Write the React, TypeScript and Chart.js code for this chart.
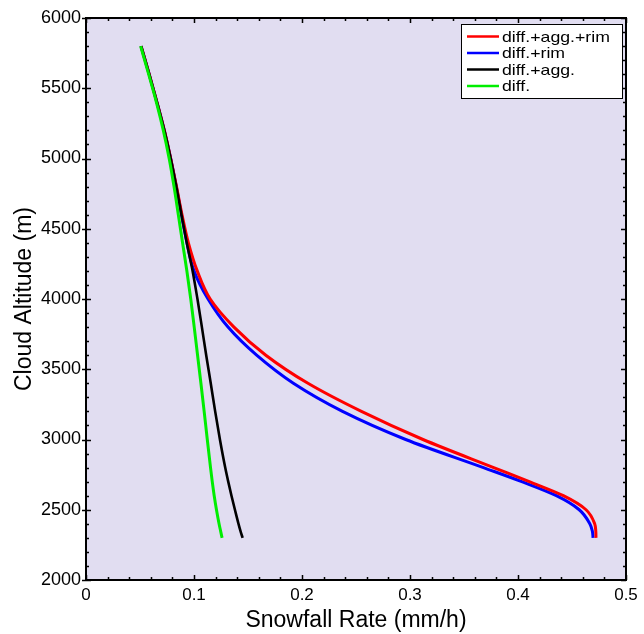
import React, { useEffect, useRef } from 'react';
import { Chart, registerables } from 'chart.js';

Chart.register(...registerables);

// Cloud altitude (m), shared by all series
const altitudes = [5800, 5600, 5400, 5200, 5000, 4800, 4600, 4400, 4200, 4000, 3800, 3600, 3400, 3200, 3000, 2800, 2700, 2600, 2500, 2400, 2350, 2300];

// Snowfall rate (mm/h) per series
const rateDiffAggRim = [0.051, 0.0585, 0.0657, 0.0725, 0.0784, 0.0838, 0.0889, 0.0948, 0.1030, 0.1150, 0.1370, 0.1665, 0.2055, 0.2550, 0.3120, 0.3775, 0.4105, 0.4420, 0.4630, 0.4710, 0.4720, 0.4722];
const rateDiffRim = [0.051, 0.0585, 0.0657, 0.0725, 0.0784, 0.0836, 0.0884, 0.0935, 0.1000, 0.1130, 0.1315, 0.1580, 0.1920, 0.2375, 0.2960, 0.3680, 0.4035, 0.4355, 0.4567, 0.4665, 0.4688, 0.4695];
const rateDiffAgg = [0.051, 0.0585, 0.0657, 0.0725, 0.0784, 0.0836, 0.0884, 0.0933, 0.0987, 0.1032, 0.1073, 0.1113, 0.1155, 0.1196, 0.1240, 0.1289, 0.1317, 0.1347, 0.1379, 0.1412, 0.1430, 0.1450];
const rateDiff = [0.0506, 0.0580, 0.0652, 0.0716, 0.0770, 0.0815, 0.0855, 0.0894, 0.0934, 0.0970, 0.1002, 0.1033, 0.1064, 0.1094, 0.1123, 0.1153, 0.1169, 0.1187, 0.1208, 0.1232, 0.1246, 0.1260];

const seriesLabels = ['diff.+agg.+rim', 'diff.+rim', 'diff.+agg.', 'diff.'];
const seriesColors = ['#ff0000', '#0000ff', '#000000', '#00ee00'];
const seriesRates = [rateDiffAggRim, rateDiffRim, rateDiffAgg, rateDiff];
const seriesOrder = [2, 3, 1, 0];
const seriesWidths = [3, 3, 2.6, 3];

const xTickLabels = ['0', '0.1', '0.2', '0.3', '0.4', '0.5'];
const yTickLabels = ['2000', '2500', '3000', '3500', '4000', '4500', '5000', '5500', '6000'];

const FONT = "'Liberation Sans', Arial, sans-serif";

const bgPlugin = {
  id: 'bgPlugin',
  beforeDraw(chart: any) {
    const { ctx, chartArea: a } = chart;
    ctx.save();
    ctx.fillStyle = '#ffffff';
    ctx.fillRect(0, 0, chart.width, chart.height);
    ctx.fillStyle = '#e1ddf1';
    ctx.fillRect(a.left, a.top, a.right - a.left, a.bottom - a.top);
    ctx.restore();
  },
};

const framePlugin = {
  id: 'framePlugin',
  afterDatasetsDraw(chart: any) {
    const { ctx, chartArea: a, scales } = chart;
    const xs = scales.x;
    const ys = scales.y;
    ctx.save();
    ctx.strokeStyle = '#000';
    ctx.lineWidth = 1.5;
    // x ticks (minor every 0.02)
    for (let i = 0; i <= 25; i++) {
      const v = i * 0.02;
      const px = Math.round(xs.getPixelForValue(v)) + 0.5;
      const len = i % 5 === 0 ? 5 : 3;
      ctx.beginPath();
      ctx.moveTo(px, a.bottom);
      ctx.lineTo(px, a.bottom - len);
      ctx.moveTo(px, a.top);
      ctx.lineTo(px, a.top + len);
      ctx.stroke();
    }
    // y ticks (minor every 100)
    for (let v = 2000; v <= 6000; v += 100) {
      const py = Math.round(ys.getPixelForValue(v)) + 0.5;
      const major = v % 500 === 0;
      const len = major ? 5 : 3;
      ctx.beginPath();
      ctx.moveTo(a.left - (major ? 4 : 0), py);
      ctx.lineTo(a.left + len, py);
      ctx.moveTo(a.right, py);
      ctx.lineTo(a.right - len, py);
      ctx.stroke();
    }
    // frame
    ctx.lineWidth = 2;
    ctx.strokeRect(a.left, a.top, a.right - a.left, a.bottom - a.top);

    // legend
    const bw = 161;
    const bh = 74;
    const bx = a.right - 4 - bw;
    const by = a.top + 6;
    ctx.fillStyle = '#ffffff';
    ctx.fillRect(bx, by, bw, bh);
    ctx.lineWidth = 1;
    ctx.strokeStyle = '#000';
    ctx.strokeRect(bx + 0.5, by + 0.5, bw, bh);
    ctx.font = `15px ${FONT}`;
    ctx.textBaseline = 'middle';
    ctx.textAlign = 'left';
    for (let i = 0; i < seriesLabels.length; i++) {
      const cy = by + 12.5 + i * 16.5;
      ctx.strokeStyle = seriesColors[i];
      ctx.lineWidth = 2.5;
      ctx.beginPath();
      ctx.moveTo(bx + 6, cy);
      ctx.lineTo(bx + 38, cy);
      ctx.stroke();
      ctx.fillStyle = '#000';
      ctx.save();
      ctx.translate(bx + 41, cy + 1);
      ctx.scale(1.18, 1);
      ctx.fillText(seriesLabels[i], 0, 0);
      ctx.restore();
    }
    ctx.restore();
  },
};

export default function App() {
  const canvasRef = useRef<HTMLCanvasElement | null>(null);

  useEffect(() => {
    const canvas = canvasRef.current;
    if (!canvas) return;
    const datasets = seriesLabels.map((label, i) => ({
      label,
      data: altitudes.map((alt, j) => ({ x: seriesRates[i][j], y: alt })),
      borderColor: seriesColors[i],
      backgroundColor: seriesColors[i],
      borderWidth: seriesWidths[i],
      pointRadius: 0,
      showLine: true,
      cubicInterpolationMode: 'monotone',
      fill: false,
      order: seriesOrder[i],
    }));

    const chart = new Chart(canvas, {
      type: 'scatter',
      data: { datasets },
      options: {
        indexAxis: 'y',
        responsive: false,
        animation: false,
        events: [],
        layout: { padding: { left: 0, right: 18, top: 18, bottom: 0 } },
        plugins: {
          legend: { display: false },
          tooltip: { enabled: false },
        },
        scales: {
          x: {
            type: 'linear',
            position: 'bottom',
            min: 0,
            max: 0.5,
            afterBuildTicks(scale: any) {
              scale.ticks = xTickLabels.map((t) => ({ value: parseFloat(t) }));
            },
            ticks: {
              color: '#000',
              font: { family: FONT, size: 17 },
              padding: 5,
              maxRotation: 0,
              autoSkip: false,
              callback: (_v: any, idx: number) => xTickLabels[idx],
            },
            grid: { display: false, drawTicks: false, tickLength: 0 },
            border: { display: false },
            title: {
              display: true,
              text: 'Snowfall Rate (mm/h)',
              color: '#000',
              font: { family: FONT, size: 23 },
              padding: { top: 0, bottom: 0 },
            },
            afterFit(scale: any) {
              scale.height = 54;
            },
          },
          y: {
            type: 'linear',
            position: 'left',
            min: 2000,
            max: 6000,
            afterBuildTicks(scale: any) {
              scale.ticks = yTickLabels.map((t) => ({ value: parseFloat(t) }));
            },
            ticks: {
              color: '#000',
              font: { family: FONT, size: 18 },
              padding: 5,
              autoSkip: false,
              callback: (_v: any, idx: number) => yTickLabels[idx],
            },
            grid: { display: false, drawTicks: false, tickLength: 0 },
            border: { display: false },
            title: {
              display: true,
              text: 'Cloud Altitude (m)',
              color: '#000',
              font: { family: FONT, size: 23 },
              padding: { top: 11, bottom: 0 },
            },
            afterFit(scale: any) {
              scale.width = 86;
            },
          },
        },
      } as any,
      plugins: [bgPlugin, framePlugin],
    });
    return () => chart.destroy();
  }, []);

  return (
    <div style={{ position: 'absolute', left: 0, top: 0, width: 644, height: 634 }}>
      <canvas ref={canvasRef} width={644} height={634} style={{ display: 'block' }} />
    </div>
  );
}
